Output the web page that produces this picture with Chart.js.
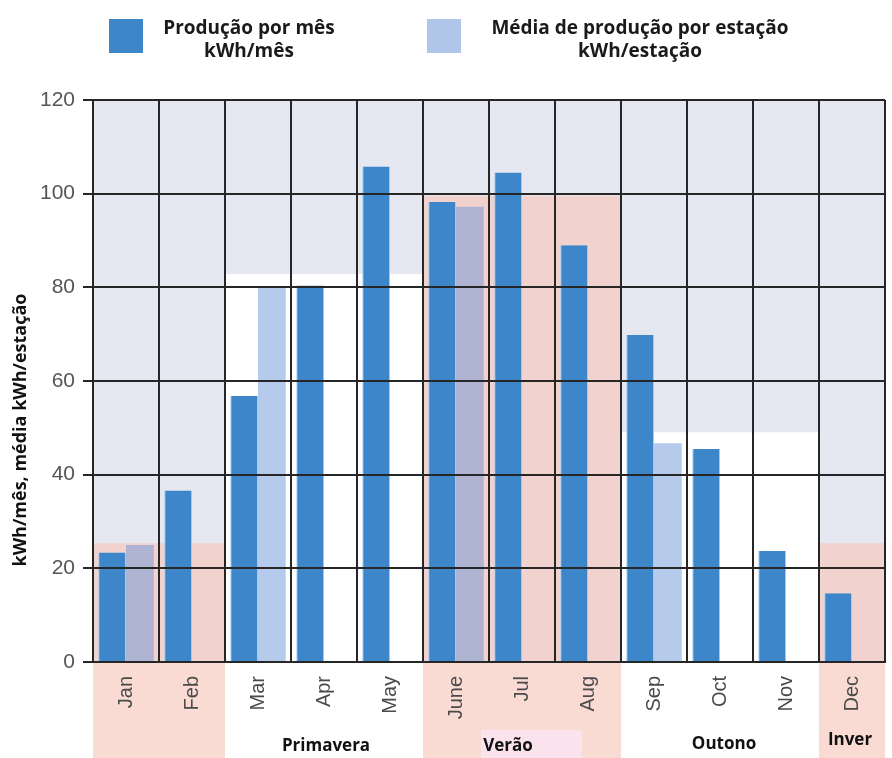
<!DOCTYPE html>
<html>
<head>
<meta charset="utf-8">
<script src="https://cdn.jsdelivr.net/npm/chart.js@4.4.1/dist/chart.umd.min.js"></script>
<style>
  html, body { margin: 0; padding: 0; background: #ffffff; }
  #wrap { width: 892px; height: 758px; }
</style>
</head>
<body>
<div id="wrap"><canvas id="c" width="892" height="758"></canvas></div>
<script>
// Monthly solar production and seasonal averages (kWh)
const months = ['Jan', 'Feb', 'Mar', 'Apr', 'May', 'June', 'Jul', 'Aug', 'Sep', 'Oct', 'Nov', 'Dec'];
const monthlyProduction = [23.4, 36.6, 56.8, 80.4, 105.8, 98.2, 104.5, 89.0, 69.8, 45.5, 23.7, 14.7];
const seasonAverage = [25.0, null, 80.2, null, null, 97.2, null, null, 46.7, null, null, null];
// season band height behind each month
const seasonBand = [25.3, 25.3, 82.8, 82.8, 82.8, 99.5, 99.5, 99.5, 49.0, 49.0, 49.0, 25.3];
const seasonOfMonth = ['inverno', 'inverno', 'primavera', 'primavera', 'primavera', 'verao', 'verao', 'verao', 'outono', 'outono', 'outono', 'inverno'];
const seasonNames = ['Primavera', 'Verão', 'Outono', 'Inver'];
const seasonFirst = [2, 5, 8, 11];
const seasonLast = [4, 7, 10, 11];
const yTicks = [0, 20, 40, 60, 80, 100, 120];
const seriesLabels = [['Produção por mês', 'kWh/mês'], ['Média de produção por estação', 'kWh/estação']];
const yTitle = 'kWh/mês, média kWh/estação';

const PINK = '#f1d2cf';
const PINK_LABEL = '#f9dbd3';
const LAVENDER = '#e5e7f1';
const BLUE = '#3d86c9';
const LIGHT_BLUE = '#afc6e8';
const GRID = '#262626';
const bandColor = { inverno: PINK, verao: PINK, primavera: '#ffffff', outono: '#ffffff' };

// Page decorations: background, legend, label-area bands, season names, y title
const decor = {
  id: 'decor',
  beforeDraw(chart) {
    const { ctx, chartArea: a, scales: { x } } = chart;
    ctx.save();
    ctx.fillStyle = '#ffffff';
    ctx.fillRect(0, 0, chart.width, chart.height);
    ctx.fillStyle = LAVENDER;
    ctx.fillRect(a.left, a.top, a.right - a.left, a.bottom - a.top);
    // pink bands under the month labels
    const half = (x.getPixelForValue(1) - x.getPixelForValue(0)) / 2;
    months.forEach((m, i) => {
      if (bandColor[seasonOfMonth[i]] === PINK) {
        const cx = x.getPixelForValue(i);
        ctx.fillStyle = PINK_LABEL;
        ctx.fillRect(cx - half, a.bottom, half * 2, chart.height - a.bottom);
      }
    });
    // legend
    const items = [
      { color: BLUE, box: 109, text: 249 },
      { color: LIGHT_BLUE, box: 427, text: 640 }
    ];
    ctx.font = 'bold 19px "Open Sans"';
    ctx.textAlign = 'center';
    ctx.textBaseline = 'middle';
    items.forEach((it, k) => {
      ctx.fillStyle = it.color;
      ctx.fillRect(it.box, 19, 34, 34);
      ctx.fillStyle = '#1a1a1a';
      ctx.fillText(seriesLabels[k][0], it.text, 29);
      ctx.fillText(seriesLabels[k][1], it.text, 52);
    });
    ctx.restore();
  },
  afterDraw(chart) {
    const { ctx, chartArea: a, scales: { x } } = chart;
    ctx.save();
    // highlight behind "Verão"
    ctx.fillStyle = '#fbe3ee';
    const vx = (x.getPixelForValue(seasonFirst[1]) + x.getPixelForValue(seasonLast[1])) / 2;
    ctx.fillRect(vx - 41, 730, 101, 28);
    ctx.font = 'bold 17px "Open Sans"';
    ctx.fillStyle = '#111111';
    ctx.textAlign = 'center';
    ctx.textBaseline = 'middle';
    const dx = [2, -14, 4, -2];
    const ys = [746, 746, 744, 740];
    seasonNames.forEach((name, k) => {
      const cx = (x.getPixelForValue(seasonFirst[k]) + x.getPixelForValue(seasonLast[k])) / 2;
      ctx.fillText(name, cx + dx[k], ys[k]);
    });
    // y axis title
    ctx.translate(21, 430);
    ctx.rotate(-Math.PI / 2);
    ctx.font = 'bold 18px "Open Sans"';
    ctx.fillText(yTitle, 0, 0);
    ctx.restore();
  }
};

new Chart(document.getElementById('c'), {
  type: 'bar',
  data: {
    labels: months,
    datasets: [
      {
        label: seriesLabels[0].join(' '),
        data: monthlyProduction,
        backgroundColor: BLUE,
        borderColor: '#9fcbef',
        borderWidth: { left: 1, right: 1, top: 0, bottom: 0 },
        borderSkipped: false,
        categoryPercentage: 0.84,
        barPercentage: 1,
        order: 1
      },
      {
        label: seriesLabels[1].join(' '),
        data: seasonAverage,
        backgroundColor: 'rgba(100,145,215,0.47)',
        categoryPercentage: 0.84,
        barPercentage: 1,
        order: 1
      },
      {
        label: 'estação',
        data: seasonBand,
        backgroundColor: seasonOfMonth.map(s => bandColor[s]),
        grouped: false,
        categoryPercentage: 1,
        barPercentage: 1,
        order: 5
      }
    ]
  },
  options: {
    responsive: false,
    animation: false,
    devicePixelRatio: 1,
    layout: { padding: { top: 100, right: 7, left: 0, bottom: 0 } },
    plugins: { legend: { display: false }, tooltip: { enabled: false } },
    scales: {
      x: {
        offset: true,
        grid: { offset: true, color: GRID, lineWidth: 2, drawTicks: false, z: 1 },
        border: { color: GRID, width: 2, z: 1 },
        ticks: {
          minRotation: 90, maxRotation: 90, autoSkip: false, padding: 14,
          color: '#4a4a4a', font: { family: '"Liberation Sans", Arial', size: 20 }
        },
        afterFit(s) { s.height = 96; }
      },
      y: {
        min: 0, max: 120,
        afterBuildTicks(s) { s.ticks = yTicks.map(v => ({ value: v })); },
        grid: { color: GRID, lineWidth: 2, tickLength: 10, z: 1 },
        border: { color: GRID, width: 2, z: 1 },
        ticks: { padding: 8, color: '#555555', font: { family: '"Liberation Sans", Arial', size: 21 } },
        afterFit(s) { s.width = 93; }
      }
    }
  },
  plugins: [decor]
});
</script>
</body>
</html>
